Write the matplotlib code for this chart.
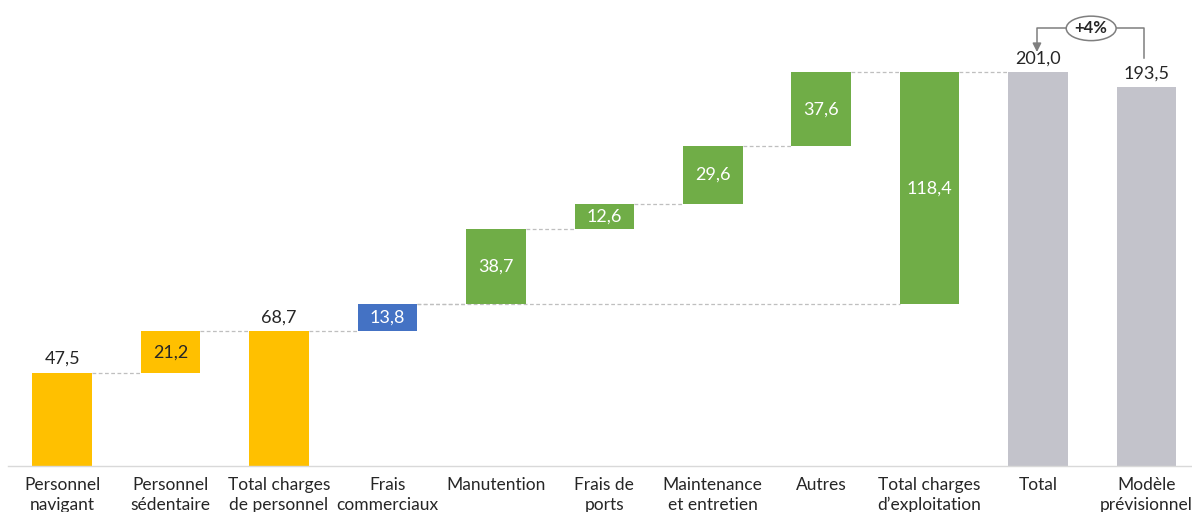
import matplotlib
matplotlib.use("Agg")
import matplotlib.pyplot as plt
from matplotlib.patches import Ellipse

plt.rcParams['font.family'] = ['Lato', 'DejaVu Sans']

categories = ["Personnel\nnavigant", "Personnel\nsédentaire", "Total charges\nde personnel",
              "Frais\ncommerciaux", "Manutention", "Frais de\nports", "Maintenance\net entretien",
              "Autres", "Total charges\nd’exploitation", "Total", "Modèle\nprévisionnel"]
values = [47.5, 21.2, 68.7, 13.8, 38.7, 12.6, 29.6, 37.6, 118.4, 201.0, 193.5]
# kind: 's' start, 'd' delta stacked on running total, 't' total from zero, 'g' group sum floating
kinds = ['s', 'd', 't', 'd', 'd', 'd', 'd', 'd', 'g', 't', 't']
colors = ["#FFC000", "#FFC000", "#FFC000", "#4472C4", "#70AD47", "#70AD47", "#70AD47",
          "#70AD47", "#70AD47", "#C3C3CB", "#C3C3CB"]
label_colors = ["#262626", "#262626", "#262626", "white", "white", "white", "white",
                "white", "white", "#262626", "#262626"]
growth_label = "+4%"

fig = plt.figure(figsize=(11.92, 5.12), dpi=100)
ax = fig.add_axes([8/1192, 46/512, 1 - 8/1192, 466/512])

bottoms, tops = [], []
running = 0.0
for i, (v, k) in enumerate(zip(values, kinds)):
    if k == 'd':
        b = running
        running += v
    elif k in ('t', 's'):
        b = 0.0
        running = v
    else:  # group sum
        b = running - v
    bottoms.append(b)
    tops.append(b + v)

x = list(range(len(values)))
w = 0.55
ax.bar(x, values, bottom=bottoms, width=w, color=colors, zorder=2)

def conn(x0, x1, y):
    ax.plot([x0 + w/2, x1 - w/2], [y, y], ls=(0, (3, 2)), color="#BFBFBF", lw=0.9, zorder=1)

for i in range(len(values) - 2):
    conn(i, i + 1, tops[i])
conn(3, 8, bottoms[8])

for i, (v, k) in enumerate(zip(values, kinds)):
    txt = f"{v:.1f}".replace(".", ",")
    if k in ('t', 's'):
        ax.text(i, tops[i] + 3, txt, ha='center', va='bottom', fontsize=13, color="#262626")
    else:
        ax.text(i, bottoms[i] + v / 2, txt, ha='center', va='center', fontsize=13,
                color=label_colors[i])

# growth annotation
y_top = 223.5
xa, xb = 9, 10
lc = "#7F7F7F"
ex = xa + 0.49
ax.plot([xb - 0.02, xb - 0.02, ex + 0.2], [tops[10] + 15, y_top, y_top], color=lc, lw=1.1)
ax.plot([ex - 0.2, xa - 0.01, xa - 0.01], [y_top, y_top, 216], color=lc, lw=1.1)
ax.annotate("", xy=(xa - 0.01, 210), xytext=(xa - 0.01, 217),
            arrowprops=dict(arrowstyle="-|>", color=lc, lw=1.1, mutation_scale=13))
ax.add_patch(Ellipse((ex, y_top), 0.46, 12.5, facecolor="white", edgecolor=lc,
                     lw=1.1, zorder=3))
ax.text(ex, y_top, growth_label, ha='center', va='center', fontsize=12,
        fontweight='bold', color="#262626", zorder=4)

ax.set_xlim(-0.5, 10.42)
ax.set_ylim(0, 238)
ax.set_xticks(x)
ax.set_xticklabels(categories, fontsize=12.5, color="#262626", linespacing=1.3)
ax.tick_params(axis='x', length=0, pad=8)
ax.set_yticks([])
for s in ['top', 'right', 'left']:
    ax.spines[s].set_visible(False)
ax.spines['bottom'].set_color("#D9D9D9")
ax.spines['bottom'].set_linewidth(1)

fig.savefig("out.png", dpi=100)
